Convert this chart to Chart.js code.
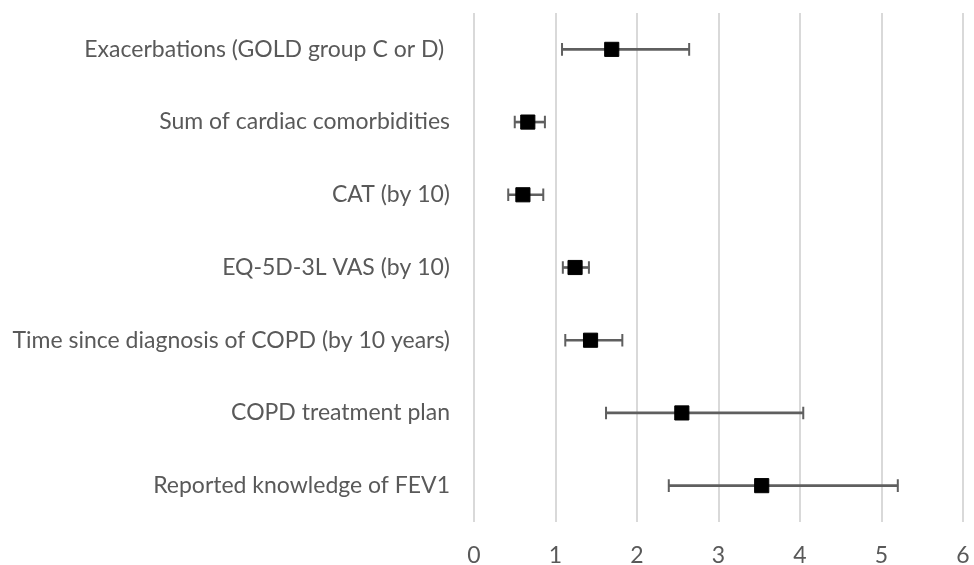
<!DOCTYPE html>
<html lang="en">
<head>
    <meta charset="UTF-8">
    <title>Forest plot</title>
    <script src="https://cdn.jsdelivr.net/npm/chart.js"></script>
    <style>
        html, body { margin: 0; padding: 0; background: #fff; }
        .chart-container { width: 974px; height: 565px; position: relative; }
    </style>
</head>
<body>
    <div class="chart-container">
        <canvas id="forestChart"></canvas>
    </div>

    <script>
    // --- data ---
    const categories = [
        'Exacerbations (GOLD group C or D) ',
        'Sum of cardiac comorbidities',
        'CAT (by 10)',
        'EQ-5D-3L VAS (by 10)',
        'Time since diagnosis of COPD (by 10 years)',
        'COPD treatment plan',
        'Reported knowledge of FEV1'
    ];
    const estimates = [1.69, 0.66, 0.60, 1.24, 1.43, 2.55, 3.53];
    const lowerCI   = [1.08, 0.50, 0.42, 1.09, 1.12, 1.62, 2.39];
    const upperCI   = [2.64, 0.87, 0.85, 1.41, 1.82, 4.04, 5.20];
    const xTicks    = [0, 1, 2, 3, 4, 5, 6];

    const textColor = '#595959';
    const barColor = '#5f5f5f';
    const labelFont = { family: 'Lato', size: 23 };

    const toPoints = vals => vals.map((v, i) => ({ x: v, y: categories[i] }));

    new Chart(document.getElementById('forestChart').getContext('2d'), {
        type: 'bar',
        data: {
            labels: categories,
            datasets: [
                {
                    // confidence interval line
                    data: lowerCI.map((lo, i) => [lo, upperCI[i]]),
                    backgroundColor: barColor,
                    barThickness: 2,
                    order: 3
                },
                {
                    // lower caps
                    type: 'line',
                    showLine: false,
                    data: toPoints(lowerCI),
                    pointStyle: 'line',
                    rotation: 90,
                    radius: 6.3,
                    borderWidth: 2,
                    borderColor: barColor,
                    order: 2
                },
                {
                    // upper caps
                    type: 'line',
                    showLine: false,
                    data: toPoints(upperCI),
                    pointStyle: 'line',
                    rotation: 90,
                    radius: 6.3,
                    borderWidth: 2,
                    borderColor: barColor,
                    order: 2
                },
                {
                    // point estimate
                    type: 'line',
                    showLine: false,
                    data: toPoints(estimates),
                    pointStyle: 'rect',
                    radius: 10,
                    borderWidth: 1,
                    borderColor: '#000',
                    backgroundColor: '#000',
                    order: 1
                }
            ]
        },
        options: {
            indexAxis: 'y',
            responsive: true,
            maintainAspectRatio: false,
            animation: false,
            layout: { padding: { top: 13, right: 8, left: 0, bottom: 0 } },
            plugins: {
                legend: { display: false },
                tooltip: { enabled: false }
            },
            scales: {
                x: {
                    type: 'linear',
                    min: 0,
                    max: 6,
                    afterBuildTicks: scale => { scale.ticks = xTicks.map(v => ({ value: v })); },
                    afterFit: scale => {
                        scale.height = 43;
                        scale.paddingLeft = 0;
                        scale.paddingRight = 0;
                    },
                    grid: { color: '#d9d9d9', lineWidth: 2, drawTicks: false },
                    border: { display: false },
                    ticks: { color: textColor, font: labelFont, padding: 20 }
                },
                y: {
                    type: 'category',
                    afterFit: scale => {
                        scale.width = 474;
                        scale.paddingTop = 0;
                        scale.paddingBottom = 0;
                    },
                    grid: { display: false, drawTicks: false },
                    border: { display: false },
                    ticks: { color: textColor, font: labelFont, padding: 24 }
                }
            }
        }
    });
    </script>
</body>
</html>
